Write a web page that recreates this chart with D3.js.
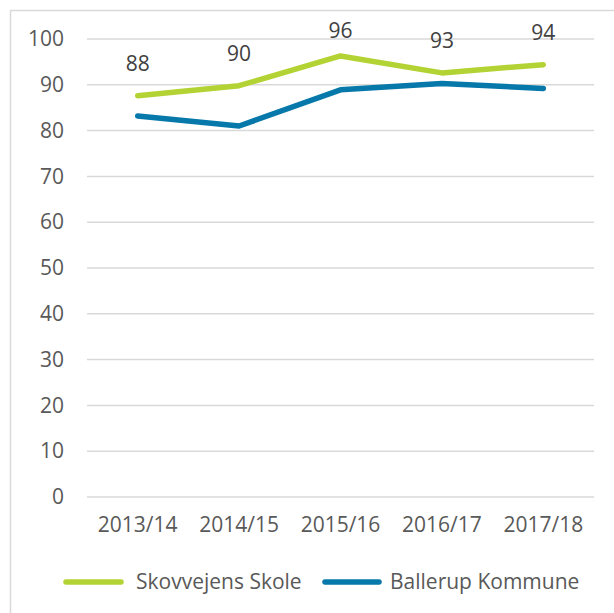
<!DOCTYPE html>
<html>
<head>
<meta charset="utf-8">
<script src="https://cdn.jsdelivr.net/npm/d3@7"></script>
<style>
  html, body { margin: 0; padding: 0; background: #fff; }
  svg { display: block; font-family: "Open Sans", sans-serif; }
</style>
</head>
<body>
<svg id="chart" width="614" height="613"></svg>
<script>
const categories = ["2013/14", "2014/15", "2015/16", "2016/17", "2017/18"];
const skovvejens = [87.6, 89.8, 96.3, 92.6, 94.4];
const ballerup = [83.2, 81.0, 88.9, 90.3, 89.2];
const seriesNames = ["Skovvejens Skole", "Ballerup Kommune"];
const yTicks = [0, 10, 20, 30, 40, 50, 60, 70, 80, 90, 100];

const colors = ["#b3d335", "#0678a9"];
const FS = "21px";
const svg = d3.select("#chart");

// outer border
svg.append("rect").attr("x", 10.5).attr("y", 10.5).attr("width", 620).attr("height", 620)
  .attr("fill", "none").attr("stroke", "#d9d9d9").attr("stroke-width", 1.5);

const x = d3.scaleBand().domain(categories).range([87, 594]);
const y = d3.scaleLinear().domain([0, 100]).range([497, 39]);

// gridlines
svg.append("g").selectAll("line").data(yTicks).join("line")
  .attr("x1", 87).attr("x2", 594)
  .attr("y1", d => y(d)).attr("y2", d => y(d))
  .attr("stroke", "#d9d9d9").attr("stroke-width", 1.5);

// y axis labels
const yAxis = svg.append("g").attr("transform", "translate(64,0)")
  .call(d3.axisLeft(y).tickValues(yTicks).tickSize(0).tickPadding(0));
yAxis.select(".domain").remove();
yAxis.selectAll("text").attr("fill", "#595959").style("font-size", FS)
  .style("font-family", "Open Sans, sans-serif");

// x axis labels
const xAxis = svg.append("g").attr("transform", "translate(0,517)")
  .call(d3.axisBottom(x).tickSize(0).tickPadding(0));
xAxis.select(".domain").remove();
xAxis.selectAll("text").attr("fill", "#595959").style("font-size", FS)
  .style("font-family", "Open Sans, sans-serif");

const line = d3.line().x((d, i) => x(categories[i]) + x.bandwidth() / 2).y(d => y(d));

[ballerup, skovvejens].forEach((s, k) => {
  svg.append("path").datum(s).attr("d", line)
    .attr("fill", "none").attr("stroke", k === 0 ? colors[1] : colors[0])
    .attr("stroke-width", 5.5).attr("stroke-linejoin", "round").attr("stroke-linecap", "round");
});

// data labels for Skovvejens
svg.append("g").selectAll("text").data(skovvejens).join("text")
  .attr("x", (d, i) => x(categories[i]) + x.bandwidth() / 2)
  .attr("y", d => Math.max(y(d) - 25, 38))
  .attr("text-anchor", "middle").attr("fill", "#404040").style("font-size", FS)
  .text(d => Math.round(d));

// legend
const legendItems = [
  { name: seriesNames[0], color: colors[0], x1: 66, x2: 121, tx: 136 },
  { name: seriesNames[1], color: colors[1], x1: 325, x2: 379, tx: 390 }
];
const lg = svg.append("g");
legendItems.forEach(it => {
  lg.append("line").attr("x1", it.x1).attr("x2", it.x2).attr("y1", 582).attr("y2", 582)
    .attr("stroke", it.color).attr("stroke-width", 5.5).attr("stroke-linecap", "round");
  lg.append("text").attr("x", it.tx).attr("y", 582).attr("dy", "0.35em")
    .attr("fill", "#595959").style("font-size", FS).text(it.name);
});
</script>
</body>
</html>
